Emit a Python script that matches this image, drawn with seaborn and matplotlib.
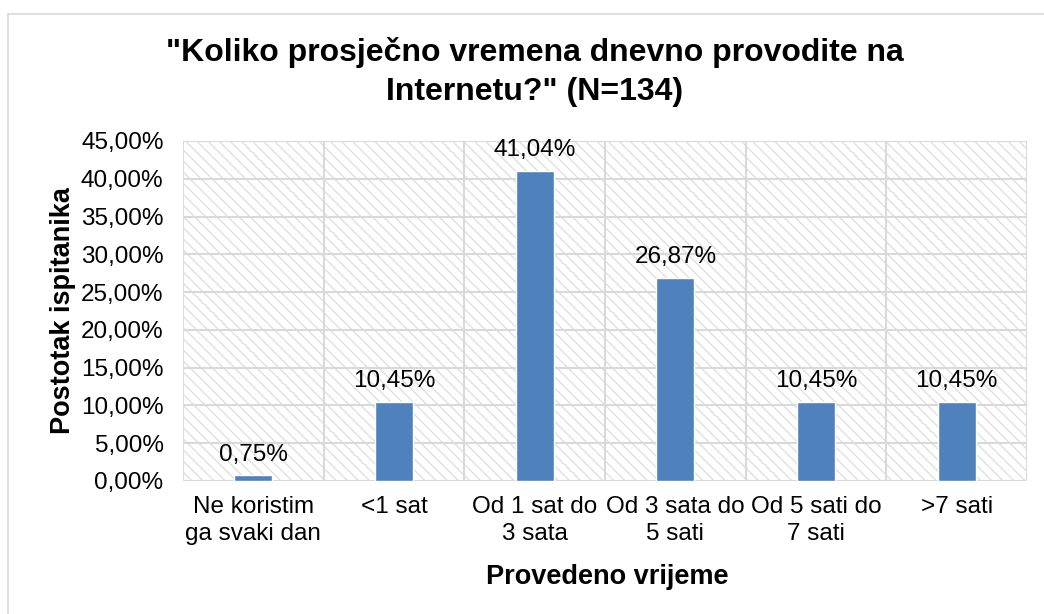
import matplotlib
matplotlib.use("Agg")
import matplotlib.pyplot as plt
import seaborn as sns
import pandas as pd
from matplotlib.lines import Line2D

categories = ["Ne koristim\nga svaki dan", "<1 sat", "Od 1 sat do\n3 sata",
              "Od 3 sata do\n5 sati", "Od 5 sati do\n7 sati", ">7 sati"]
values = [0.75, 10.45, 41.04, 26.87, 10.45, 10.45]
yticks = [0, 5, 10, 15, 20, 25, 30, 35, 40, 45]

sns.set_theme(style="white")
plt.rcParams['font.family'] = ['Liberation Sans', 'DejaVu Sans']
plt.rcParams['hatch.color'] = '#DCDCDC'
plt.rcParams['hatch.linewidth'] = 1.0

df = pd.DataFrame({"cat": categories, "val": values})

fig = plt.figure(figsize=(10.44, 6.14), dpi=100)
ax = fig.add_axes([183/1044, 1-481/614, (1027-183)/1044, (481-141)/614])

# hatched background
ax.patch.set_facecolor('white')
ax.patch.set_hatch('\\\\\\')
ax.patch.set_edgecolor('#E0E0E0')
ax.patch.set_linewidth(0)

sns.barplot(data=df, x="cat", y="val", color="#4F81BD", saturation=1,
            width=0.27, ax=ax, zorder=3)

ax.set_ylim(0, 45)
ax.set_xlim(-0.5, len(categories) - 0.5)
ax.set_yticks(yticks)
ax.set_yticklabels([f"{v:.2f}%".replace('.', ',') for v in yticks], fontsize=17.5)
ax.tick_params(axis='x', labelsize=17.5, length=0, pad=11)
ax.tick_params(axis='y', length=0, pad=14)
for lbl in ax.get_xticklabels() + ax.get_yticklabels():
    lbl.set_color('#000000')
    lbl.set_linespacing(1.3)

for y in yticks:
    ax.axhline(y, color='#D9D9D9', lw=1.5, zorder=1)
for i in range(len(categories) + 1):
    ax.axvline(i - 0.5, color='#D9D9D9', lw=1.5, zorder=1)
for s in ax.spines.values():
    s.set_visible(False)

for i, v in enumerate(values):
    ax.text(i, v + 1.3, f"{v:.2f}%".replace('.', ','), ha='center', va='bottom',
            fontsize=17.5, color='#000000', zorder=4)

ax.set_xlabel("Provedeno vrijeme", fontsize=19.5, fontweight='bold', color='#000000')
ax.set_ylabel("Postotak ispitanika", fontsize=19.5, fontweight='bold', color='#000000')
ax.xaxis.set_label_coords((607 - 183) / 844, (481 - 564) / 340)
ax.yaxis.set_label_coords((76 - 183) / 844, 0.5)

fig.text(535/1044, 1-72/614, "\"Koliko prosječno vremena dnevno provodite na\nInternetu?\" (N=134)",
         ha='center', va='center', fontsize=23, fontweight='bold', linespacing=1.35,
         color='#000000')

# outer chart border (top and left visible)
fig.add_artist(Line2D([8/1044, 8/1044], [0, 1-14/614], transform=fig.transFigure,
                      color='#D9D9D9', lw=1.2))
fig.add_artist(Line2D([8/1044, 1], [1-14/614, 1-14/614], transform=fig.transFigure,
                      color='#D9D9D9', lw=1.2))

fig.savefig("out.png", dpi=100)
